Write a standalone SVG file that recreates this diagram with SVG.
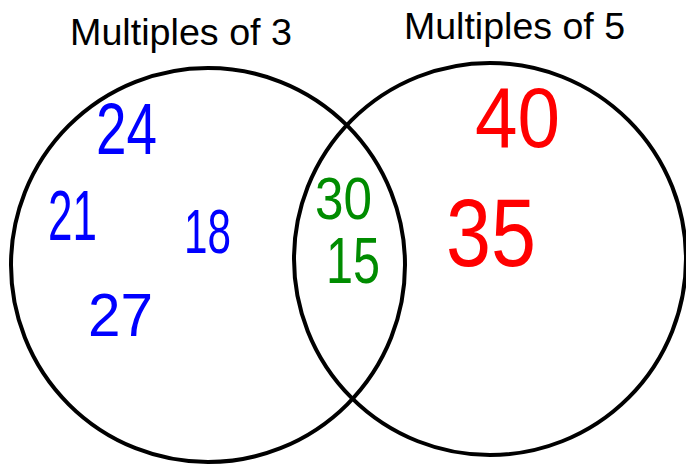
<svg xmlns="http://www.w3.org/2000/svg" width="686" height="465" viewBox="0 0 686 465">
<style>
.ring{fill:none;stroke:#000;stroke-width:4}
.title{font-family:"Liberation Sans",Arial,sans-serif;font-size:37px;fill:#000}
.num{font-family:"Liberation Sans",Arial,sans-serif}
.b{fill:#0000ff}
.g{fill:#008c00}
.r{fill:#ff0000}
</style>
<rect width="686" height="465" fill="#fff"/>
<g id="set-3">
<circle class="ring" cx="208" cy="265" r="197"/>
<text class="title" x="70" y="45" textLength="222" lengthAdjust="spacingAndGlyphs">Multiples of 3</text>
</g>
<g id="set-5">
<circle class="ring" cx="490" cy="259" r="196"/>
<text class="title" x="404" y="39" textLength="221" lengthAdjust="spacingAndGlyphs">Multiples of 5</text>
</g>
<g id="numbers">
<text class="num b" x="96" y="154" font-size="72" textLength="61" lengthAdjust="spacingAndGlyphs">24</text>
<text class="num b" x="48" y="240" font-size="70" textLength="49" lengthAdjust="spacingAndGlyphs">21</text>
<text class="num b" x="184" y="253" font-size="63" textLength="47" lengthAdjust="spacingAndGlyphs">18</text>
<text class="num b" x="88" y="336" font-size="61" textLength="65" lengthAdjust="spacingAndGlyphs">27</text>
<text class="num g" x="315" y="219" font-size="59" textLength="57" lengthAdjust="spacingAndGlyphs">30</text>
<text class="num g" x="326" y="283" font-size="65" textLength="54" lengthAdjust="spacingAndGlyphs">15</text>
<text class="num r" x="475" y="147" font-size="86" textLength="85" lengthAdjust="spacingAndGlyphs">40</text>
<text class="num r" x="446" y="266" font-size="96" textLength="90" lengthAdjust="spacingAndGlyphs">35</text>
</g>
</svg>
